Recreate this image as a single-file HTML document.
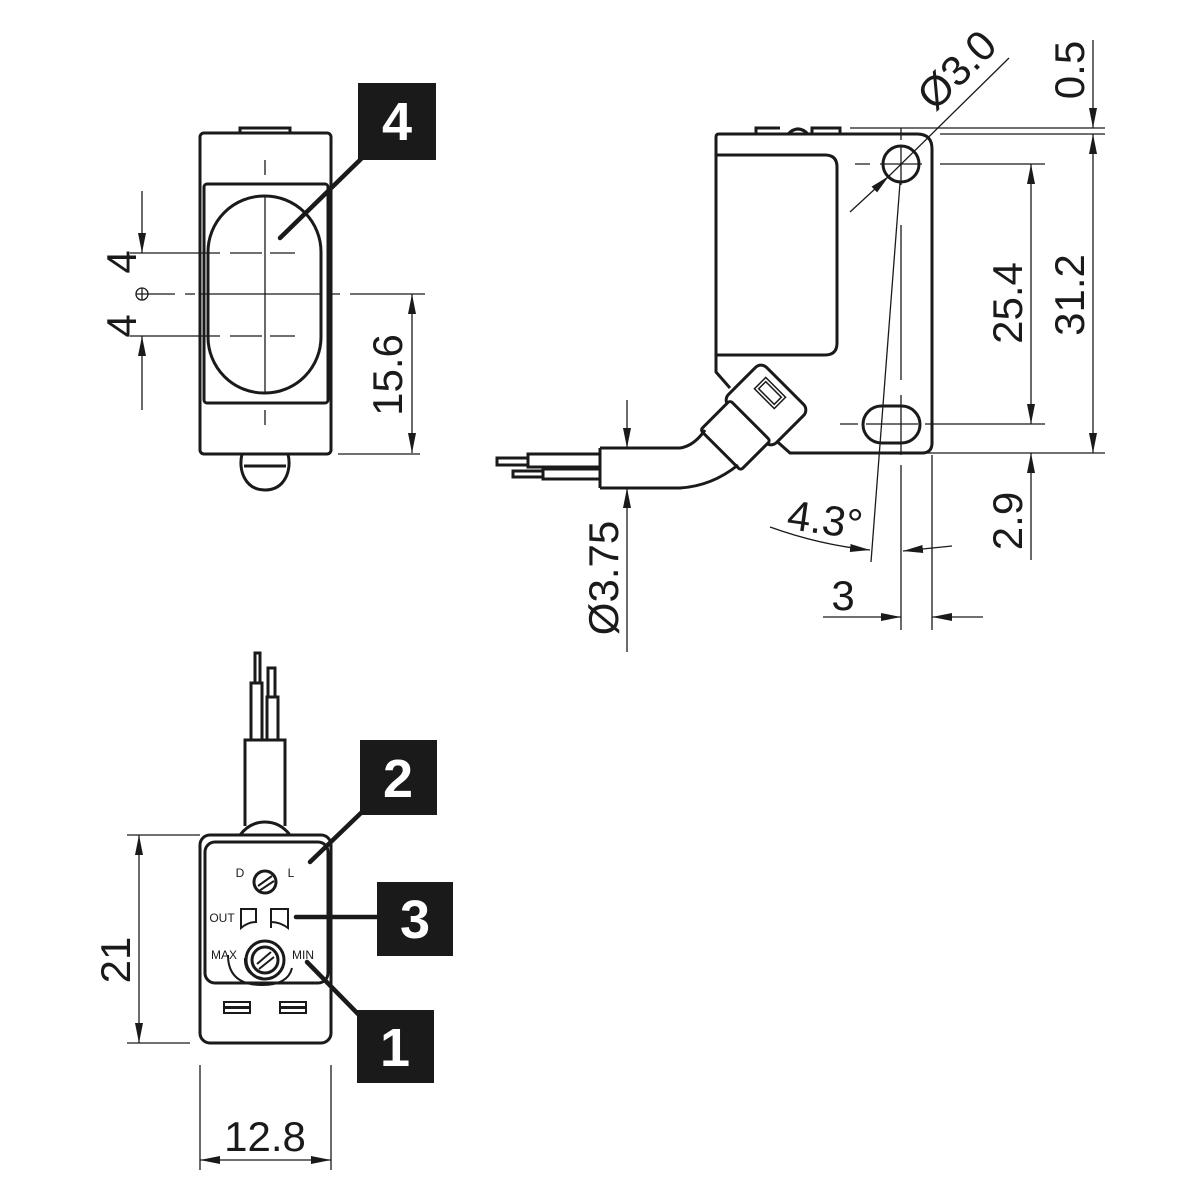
<!DOCTYPE html>
<html><head><meta charset="utf-8"><style>
html,body{margin:0;padding:0;background:#fff}
svg{display:block}
text{font-family:"Liberation Sans",sans-serif;fill:#1a1a1a}
.d{font-size:42px}
.b{font-size:54px;font-weight:bold;fill:#fff}
.s{font-size:12px}
</style></head><body>
<svg width="1200" height="1200" viewBox="0 0 1200 1200" xmlns="http://www.w3.org/2000/svg">
<defs>
<marker id="a" viewBox="0 0 20 8" refX="20" refY="4" markerWidth="20" markerHeight="8" markerUnits="userSpaceOnUse" orient="auto-start-reverse">
<path d="M0,0 L20,4 L0,8 Z" fill="#1a1a1a"/></marker>
</defs>
<g fill="none" stroke="#1a1a1a">
<!-- FRONT VIEW -->
<g stroke-width="3">
<rect x="200" y="133" width="131" height="321" rx="4"/>
<path d="M240,133 V128 H290 V133"/>
<rect x="204" y="184" width="124" height="219" rx="3"/>
<rect x="208" y="196" width="113" height="197" rx="56" ry="56"/>
<path d="M242,454 C238,470 245,490 265,490 C285,490 292,470 288,454"/>
<path d="M244,466 H286"/>
</g>
<g stroke-width="1.3">
<path d="M265,160 V175 M265,196 V393 M265,410 V425"/>
<path d="M130,253 H220 M230,253 H262 M270,253 H295"/>
<path d="M130,336 H220 M230,336 H262 M270,336 H295"/>
<path d="M148,294 H175 M185,294 H195 M200,294 H321 M330,294 H340 M350,294 H425"/>
<circle cx="142" cy="294" r="6"/>
<path d="M136,294 H148 M142,288 V300"/>
<path d="M142,191 V253" marker-end="url(#a)"/>
<path d="M142,410 V336" marker-end="url(#a)"/>
<path d="M412,294 V453" marker-start="url(#a)" marker-end="url(#a)"/>
<path d="M338,454 H420"/>
</g>
<path d="M362,158 L280,238" stroke-width="4.5" stroke-linecap="round"/>

<!-- SIDE VIEW -->
<g stroke-width="3">
<path d="M716,155 V137 Q716,134 719,134 H917 Q932,134 932,149 V443 Q932,453 922,453 H790 L772,437"/>
<path d="M716,155 H825 Q837,155 837,167 V343 Q837,355 825,355 H716 V155"/>
<path d="M716,355 V372 L730,388"/>
<path d="M756,134 V128 H780 M788,134 Q798,124 808,134 M812,134 V128 H840 V134"/>
<circle cx="901" cy="164" r="18"/>
<rect x="863" y="406" width="57" height="37" rx="18.5"/>
<!-- connector housing -->
<rect x="732" y="378" width="68" height="54" rx="8" transform="rotate(45 766 405)" fill="#fff"/>
<rect x="707" y="414" width="57" height="42" rx="3" transform="rotate(45 735 435)" fill="#fff"/>
<path d="M600,448 H680 Q694,446 705,430"/>
<path d="M600,488 H680 Q712,486 738,465"/>
<path d="M600,448 V488"/>
<path d="M600,454 H528 V467 H600 M528,458 H497 V465 H528"/>
<path d="M600,469 H543 V479 H600 M543,471 H513 V477 H543"/>
</g>
<g stroke-width="1.5">
<rect x="756" y="385" width="28" height="16" transform="rotate(45 770 393)"/>
<rect x="759" y="388" width="22" height="10" transform="rotate(45 770 393)"/>
</g>
<g stroke-width="1.3">
<path d="M901,128 V140 M901,146 V185 M901,225 V380 M901,395 V455 M901,465 V630"/>
<path d="M932,455 V630"/>
<path d="M900,183 L871,562"/>
<path d="M855,164 H870 M880,164 H922 M940,164 H1045"/>
<path d="M840,424 H858 M866,424 H918 M925,424 H1045"/>
<path d="M850,128 H1105 M940,134 H1105 M925,453 H1105"/>
<path d="M850,212 L889,176" marker-end="url(#a)"/>
<path d="M889,176 L1009,58"/>
<path d="M1093,40 V128" marker-end="url(#a)"/>
<path d="M1093,134 V453" marker-start="url(#a)" marker-end="url(#a)"/>
<path d="M1031,164 V424" marker-start="url(#a)" marker-end="url(#a)"/>
<path d="M1031,560 V453" marker-end="url(#a)"/>
<path d="M627,400 V448" marker-end="url(#a)"/>
<path d="M627,652 V488" marker-end="url(#a)"/>
<path d="M770,527 Q820,545 870,550" marker-end="url(#a)"/>
<path d="M952,546 L903,551" marker-end="url(#a)"/>
<path d="M823,617 H901" marker-end="url(#a)"/>
<path d="M983,617 H932" marker-end="url(#a)"/>
</g>

<!-- BOTTOM VIEW -->
<g stroke-width="3">
<rect x="200" y="835" width="131" height="208" rx="10"/>
<rect x="205" y="842" width="123" height="141" rx="10"/>
<path d="M240,835 Q250,822 265,822 Q280,822 290,835"/>
<path d="M245,826 V740 H285 V826"/>
<path d="M251,740 V683 H262 V740 M255,683 V653 H260 V683"/>
<path d="M267,740 V697 H278 V740 M268,697 V668 H275 V697"/>
<circle cx="265" cy="882" r="11"/>
<circle cx="265" cy="960" r="19"/>
<circle cx="265" cy="960" r="13"/>
</g>
<g stroke-width="2">
<path d="M258,886 L272,876 M259,891 L274,881"/>
<path d="M257,964 L271,952 M259,969 L274,957"/>
<path d="M241,928 V909 H256 V922 Q248,922 241,928 Z"/>
<path d="M271,928 V909 H288 V928 Q280,922 271,922 Z"/>
<path d="M228,955 Q228,985 262,985 Q288,985 292,968"/>
<path d="M245,958 Q244,975 262,978"/>
<rect x="224" y="1002" width="26" height="11"/>
<rect x="224" y="1007" width="26" height="1"/>
<rect x="280" y="1002" width="26" height="11"/>
<rect x="280" y="1007" width="26" height="1"/>
</g>
<g stroke-width="1.3">
<path d="M127,835 H200 M127,1043 H190"/>
<path d="M139,835 V1043" marker-start="url(#a)" marker-end="url(#a)"/>
<path d="M200,1065 V1170 M331,1065 V1170"/>
<path d="M200,1160 H331" marker-start="url(#a)" marker-end="url(#a)"/>
</g>
<path d="M362,812 L310,862" stroke-width="4.5" stroke-linecap="round"/>
<path d="M296,917 H378" stroke-width="4.5" stroke-linecap="round"/>
<path d="M360,1016 L307,962" stroke-width="4.5" stroke-linecap="round"/>
</g>

<!-- label boxes -->
<rect x="358" y="83" width="78" height="77" fill="#1a1a1a"/>
<text class="b" x="397" y="140" text-anchor="middle">4</text>
<rect x="360" y="740" width="77" height="75" fill="#1a1a1a"/>
<text class="b" x="398" y="797" text-anchor="middle">2</text>
<rect x="377" y="882" width="76" height="74" fill="#1a1a1a"/>
<text class="b" x="415" y="938" text-anchor="middle">3</text>
<rect x="357" y="1010" width="77" height="73" fill="#1a1a1a"/>
<text class="b" x="395" y="1066" text-anchor="middle">1</text>

<!-- dimension text -->
<text class="d" transform="translate(136,262) rotate(-90)" text-anchor="middle">4</text>
<text class="d" transform="translate(136,326) rotate(-90)" text-anchor="middle">4</text>
<text class="d" transform="translate(402,375) rotate(-90)" text-anchor="middle">15.6</text>
<text class="d" transform="translate(967,80) rotate(-45)" text-anchor="middle">Ø3.0</text>
<text class="d" transform="translate(1084,70) rotate(-90)" text-anchor="middle">0.5</text>
<text class="d" transform="translate(1084,295) rotate(-90)" text-anchor="middle">31.2</text>
<text class="d" transform="translate(1022,303) rotate(-90)" text-anchor="middle">25.4</text>
<text class="d" transform="translate(1022,521) rotate(-90)" text-anchor="middle">2.9</text>
<text class="d" transform="translate(618,578) rotate(-90)" text-anchor="middle">Ø3.75</text>
<text class="d" transform="translate(823,534) rotate(8)" text-anchor="middle">4.3°</text>
<text class="d" x="843" y="610" text-anchor="middle">3</text>
<text class="d" transform="translate(130,960) rotate(-90)" text-anchor="middle">21</text>
<text class="d" x="265" y="1151" text-anchor="middle">12.8</text>
<text class="s" x="240" y="877" text-anchor="middle">D</text>
<text class="s" x="291" y="877" text-anchor="middle">L</text>
<text class="s" x="222" y="922" text-anchor="middle">OUT</text>
<text class="s" x="224" y="959" text-anchor="middle">MAX</text>
<text class="s" x="303" y="959" text-anchor="middle">MIN</text>
</svg>
</body></html>
